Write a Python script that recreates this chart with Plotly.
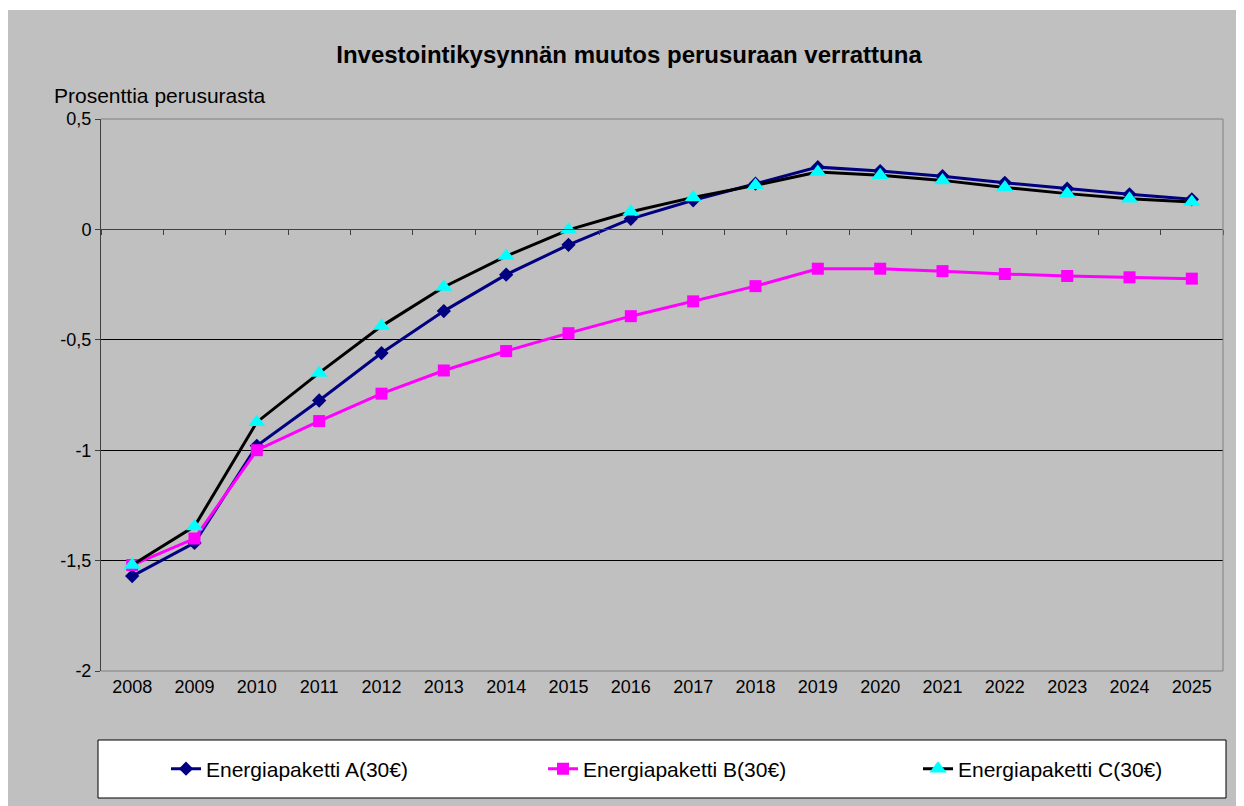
import plotly.graph_objects as go

years = [str(y) for y in range(2008, 2026)]

paketti_a = [-1.57, -1.42, -0.98, -0.775, -0.56, -0.37, -0.205, -0.07, 0.048, 0.132, 0.207,
             0.282, 0.264, 0.241, 0.211, 0.184, 0.159, 0.136]
paketti_b = [-1.52, -1.40, -1.00, -0.868, -0.744, -0.639, -0.551, -0.47, -0.393, -0.326, -0.257,
             -0.178, -0.178, -0.189, -0.202, -0.211, -0.217, -0.223]
paketti_c = [-1.52, -1.345, -0.873, -0.65, -0.438, -0.261, -0.121, -0.002, 0.08, 0.145, 0.2,
             0.26, 0.245, 0.222, 0.19, 0.162, 0.139, 0.124]

y_ticks = [0.5, 0, -0.5, -1, -1.5, -2]
y_tick_labels = ["0,5", "0", "-0,5", "-1", "-1,5", "-2"]

FONT = "Arial, Liberation Sans, sans-serif"
GRAY = "#C0C0C0"

# the page has an 8px body margin, figure sits at (8, 8)
FIG_W, FIG_H = 1236, 798
OFF = 8

fig = go.Figure()
fig.add_trace(go.Scatter(x=years, y=paketti_a, name="Energiapaketti A(30€)", mode="lines+markers",
                         legend="legend",
                         line=dict(color="#000080", width=3),
                         marker=dict(symbol="diamond", size=11, color="#000080")))
fig.add_trace(go.Scatter(x=years, y=paketti_b, name="Energiapaketti B(30€)", mode="lines+markers",
                         legend="legend2",
                         line=dict(color="#FF00FF", width=3),
                         marker=dict(symbol="square", size=12, color="#FF00FF")))
fig.add_trace(go.Scatter(x=years, y=paketti_c, name="Energiapaketti C(30€)", mode="lines+markers",
                         xaxis="x2", legend="legend3",
                         line=dict(color="black", width=3),
                         marker=dict(symbol="triangle-up", size=15, color="#00FFFF")))

# plot area in page pixels: x 101..1223, y 119..671
L, R, T, B = 101, 1223, 119, 671
W, H = R - L, B - T


def px(x):
    return (x - L) / W


def py(y):
    return (B - y) / H


def legend_at(x):
    return dict(orientation="h", x=px(x), xanchor="left", y=py(769), yanchor="middle",
                bgcolor="rgba(0,0,0,0)", font=dict(size=21))


fig.update_layout(
    width=FIG_W, height=FIG_H,
    margin=dict(l=L - OFF, r=FIG_W + OFF - R, t=T - OFF, b=FIG_H + OFF - B),
    paper_bgcolor=GRAY, plot_bgcolor=GRAY,
    font=dict(family=FONT, size=18, color="black"),
    title=dict(text="<b>Investointikysynnän muutos perusuraan verrattuna</b>",
               x=(629 - OFF) / FIG_W, xanchor="center", y=1 - (55 - OFF) / FIG_H, yanchor="middle",
               font=dict(size=24)),
    showlegend=True,
    legend=legend_at(166),
    legend2=legend_at(543),
    legend3=legend_at(918),
    shapes=[
        dict(type="rect", xref="paper", yref="paper", x0=px(OFF), x1=px(1244), y0=py(10), y1=py(OFF),
             fillcolor="white", line=dict(width=0), layer="below"),
        dict(type="rect", xref="paper", yref="paper", x0=px(98), x1=px(1226), y0=py(798), y1=py(740),
             fillcolor="white", line=dict(color="black", width=1), layer="below"),
        dict(type="path", xref="paper", yref="paper", path="M 0,1 L 1,1 L 1,0 L 0,0",
             line=dict(color="#808080", width=1), layer="above"),
    ],
    annotations=[
        dict(text="Prosenttia perusurasta", xref="paper", yref="paper", x=px(52), y=py(95),
             xanchor="left", yanchor="middle", showarrow=False, font=dict(size=21)),
    ],
)

fig.update_xaxes(type="category", range=[-0.5, 17.5], showgrid=False, zeroline=False,
                 showline=False, ticks="", tickfont=dict(size=18), ticklabelstandoff=3)
fig.update_layout(
    xaxis2=dict(type="category", matches="x", overlaying="x", anchor="free", position=py(229),
                side="bottom", showticklabels=False, showgrid=False, zeroline=False,
                showline=True, linecolor="#404040", linewidth=1,
                ticks="outside", tickson="boundaries", ticklen=5, tickcolor="#404040"),
)
fig.update_yaxes(range=[-2, 0.5], tickvals=y_ticks, ticktext=y_tick_labels,
                 showgrid=True, gridcolor="black", gridwidth=1, zeroline=False,
                 showline=True, linecolor="#404040", linewidth=1,
                 ticks="outside", ticklen=5, tickcolor="#404040", tickfont=dict(size=18))

fig.write_html("out.html")
